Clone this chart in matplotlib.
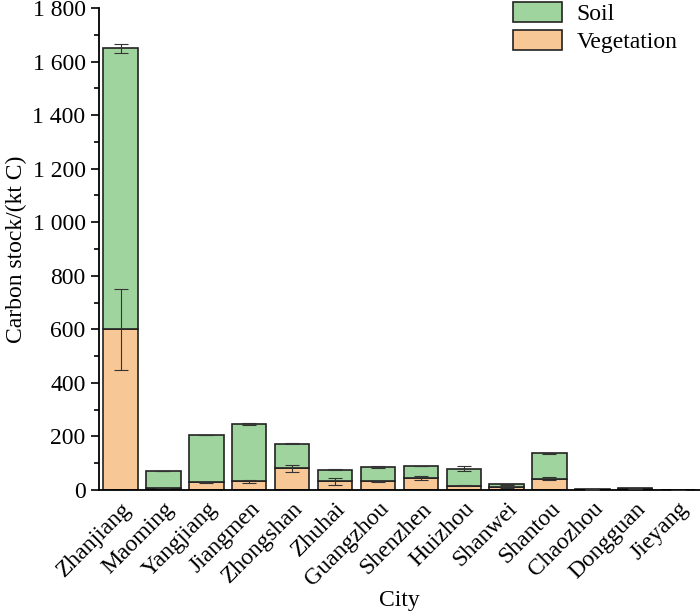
import matplotlib
matplotlib.use("Agg")
import matplotlib.pyplot as plt
from matplotlib import font_manager as fm
import numpy as np
import os
from matplotlib.ticker import MultipleLocator, FuncFormatter

cities = ["Zhanjiang", "Maoming", "Yangjiang", "Jiangmen", "Zhongshan", "Zhuhai",
          "Guangzhou", "Shenzhen", "Huizhou", "Shanwei", "Shantou", "Chaozhou",
          "Dongguan", "Jieyang"]
vegetation = [600, 7, 29, 32, 82, 32, 32, 45, 16, 10, 42, 1, 3, 0.3]
soil = [1050, 64, 177, 214, 91, 44, 55, 45, 64, 11, 95, 2, 4, 0.3]
veg_err = [150, 1, 1, 7, 13, 12, 3, 6, 1, 1, 5, 0, 0, 0]
total_err = [17, 1, 1, 3, 1, 1, 4, 1, 8, 1, 1, 0, 0, 0]

FS = 17
path = "/usr/share/fonts/truetype/liberation/LiberationSerif-Regular.ttf"
if os.path.exists(path):
    fm.fontManager.addfont(path)
    fp = fm.FontProperties(fname=path, size=FS)
    plt.rcParams['font.family'] = [fp.get_name(), 'DejaVu Serif']
else:
    fp = fm.FontProperties(family=['Liberation Serif', 'DejaVu Serif'], size=FS)

fig = plt.figure(figsize=(7.0, 6.11), dpi=100)
ax = fig.add_axes([0.141, 0.198, 0.859, 0.789])

x = np.arange(len(cities))
veg = np.array(vegetation)
sl = np.array(soil)
total = veg + sl
green = "#a0d49e"
orange = "#f8c796"

ax.bar(x, veg, width=0.8, color=orange, edgecolor="#222222", linewidth=1.2, label="Vegetation", zorder=2)
ax.bar(x, sl, width=0.8, bottom=veg, color=green, edgecolor="#222222", linewidth=1.2, label="Soil", zorder=2)
ax.errorbar(x, veg, yerr=veg_err, fmt="none", ecolor="#333333", elinewidth=0.8, capsize=5, capthick=0.8, zorder=3)
ax.errorbar(x, total, yerr=total_err, fmt="none", ecolor="#333333", elinewidth=0.8, capsize=5, capthick=0.8, zorder=3)

ax.set_xlim(-0.51, 13.51)
ax.set_ylim(0, 1800)
ax.yaxis.set_major_locator(MultipleLocator(200))
ax.yaxis.set_minor_locator(MultipleLocator(100))
ax.yaxis.set_major_formatter(FuncFormatter(lambda v, p: f"{int(v):,}".replace(",", " ")))
ax.set_xticks(x)
ax.set_xticklabels(cities, rotation=45, ha="right", rotation_mode="anchor", fontproperties=fp)
ax.tick_params(axis="x", length=0, pad=6)
ax.tick_params(axis="y", which="major", length=6, width=1.2, direction="out", labelsize=FS)
ax.tick_params(axis="y", which="minor", length=3.5, width=1.2, direction="out")
for s in ["top", "right"]:
    ax.spines[s].set_visible(False)
for s in ["left", "bottom"]:
    ax.spines[s].set_linewidth(1.3)

ax.set_ylabel("Carbon stock/(kt C)", fontproperties=fp, labelpad=4)
ax.set_xlabel("City", fontproperties=fp, labelpad=0)

h, l = ax.get_legend_handles_labels()
ax.legend(h[::-1], l[::-1], loc="upper right", bbox_to_anchor=(0.962, 1.013), frameon=False,
          prop=fp, borderpad=0, handlelength=2.1, handleheight=0.95, handletextpad=0.6,
          labelspacing=0.2, borderaxespad=0)

fig.canvas.draw()
for t in ax.get_yticklabels():
    t.set_fontproperties(fp)

fig.savefig("out.png", dpi=100)
